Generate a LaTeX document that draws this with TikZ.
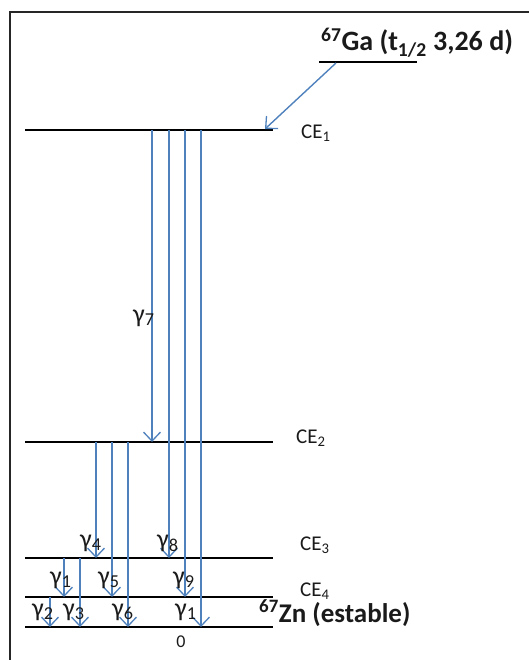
\documentclass[tikz,border=0pt]{standalone}
\usepackage{fontspec}
\setmainfont{Carlito}
\usetikzlibrary{arrows.meta}
\definecolor{arrowblue}{HTML}{4F81BD}
\definecolor{txt}{HTML}{1A1A1A}
\tikzset{
  level/.style={draw=black, line width=1.4pt},
  gam/.style={draw=arrowblue, line width=1.4pt, -{Straight Barb[length=9pt,width=17pt,line width=1.3pt]}},
  glab/.style={anchor=west, inner sep=0pt, text=txt, font=\fontsize{26}{26}\selectfont},
  celab/.style={anchor=west, inner sep=0pt, text=txt, font=\fontsize{21}{21}\selectfont},
}
\begin{document}
\begin{tikzpicture}[x=1pt,y=-1pt]
\useasboundingbox (0,0) rectangle (528,660);
% frame (right and bottom edges outside the picture)
\draw[line width=1.4pt, draw=black!85] (10,670) -- (10,12) -- (540,12);
% level coordinates
\coordinate (gaL) at (319,62);  \coordinate (gaR) at (417,62);
\coordinate (c1L) at (25,130);  \coordinate (c1R) at (273,130);
\coordinate (c2L) at (25,442);  \coordinate (c2R) at (273,442);
\coordinate (c3L) at (25,558);  \coordinate (c3R) at (273,558);
\coordinate (c4L) at (25,597);  \coordinate (c4R) at (273,597);
\coordinate (g0L) at (25,627);  \coordinate (g0R) at (273,627);
\draw[level] (gaL) -- (gaR);
\draw[level] (c1L) -- (c1R);
\draw[level] (c2L) -- (c2R);
\draw[level] (c3L) -- (c3R);
\draw[level] (c4L) -- (c4R);
\draw[level] (g0L) -- (g0R);
% labels
\node[anchor=base west, inner sep=0pt, text=txt, font=\fontsize{28}{28}\selectfont\bfseries] (title) at (321,51) {\textsuperscript{67}Ga (t\textsubscript{1/2} 3,26 d)};
\node[celab] (ce1) at (301,133) {CE\textsubscript{1}};
\node[celab] (ce2) at (296,438) {CE\textsubscript{2}};
\node[celab] (ce3) at (300,545) {CE\textsubscript{3}};
\node[celab] (ce4) at (300,591) {CE\textsubscript{4}};
\node[anchor=base west, inner sep=0pt, text=txt, font=\fontsize{27}{27}\selectfont\bfseries] (zn) at (259,622) {\textsuperscript{67}Zn (estable)};
\node[inner sep=0pt, text=txt, font=\fontsize{18}{18}\selectfont] (zero) at (181,642) {0};
% EC arrow
\coordinate (ecS) at (336,63);
\coordinate (ecE) at (265,129);
\draw[draw=arrowblue, line width=1.4pt, -{Straight Barb[length=9pt,width=17pt,line width=1.3pt]}] (ecS) -- (ecE);
% gamma transitions: start/end coordinates
\coordinate (a7s) at (152,130); \coordinate (a7e) at (152,442);
\coordinate (a8s) at (169,130); \coordinate (a8e) at (169,558);
\coordinate (a9s) at (185,130); \coordinate (a9e) at (185,597);
\coordinate (a1s) at (201,130); \coordinate (a1e) at (201,627);
\coordinate (a4s) at (96,442);  \coordinate (a4e) at (96,558);
\coordinate (a5s) at (112,442); \coordinate (a5e) at (112,597);
\coordinate (a6s) at (128,442); \coordinate (a6e) at (128,627);
\coordinate (b1s) at (64,558);  \coordinate (b1e) at (64,597);
\coordinate (a3s) at (80,558);  \coordinate (a3e) at (80,627);
\coordinate (a2s) at (50,597);  \coordinate (a2e) at (50,627);
\foreach \p in {a7,a8,a9,a1,a4,a5,a6,b1,a3,a2}
  \draw[gam] (\p s) -- (\p e);
% gamma labels
\node[glab] (g7) at (133,318) {γ\textsubscript{7}};
\node[glab] (g4) at (80,543) {γ\textsubscript{4}};
\node[glab] (g8) at (157,543) {γ\textsubscript{8}};
\node[glab] (g1a) at (50,580) {γ\textsubscript{1}};
\node[glab] (g5) at (98,580) {γ\textsubscript{5}};
\node[glab] (g9) at (173,580) {γ\textsubscript{9}};
\node[glab] (g2) at (32,612) {γ\textsubscript{2}};
\node[glab] (g3) at (63,612) {γ\textsubscript{3}};
\node[glab] (g6) at (112,612) {γ\textsubscript{6}};
\node[glab] (g1b) at (175,612) {γ\textsubscript{1}};
\end{tikzpicture}
\end{document}
